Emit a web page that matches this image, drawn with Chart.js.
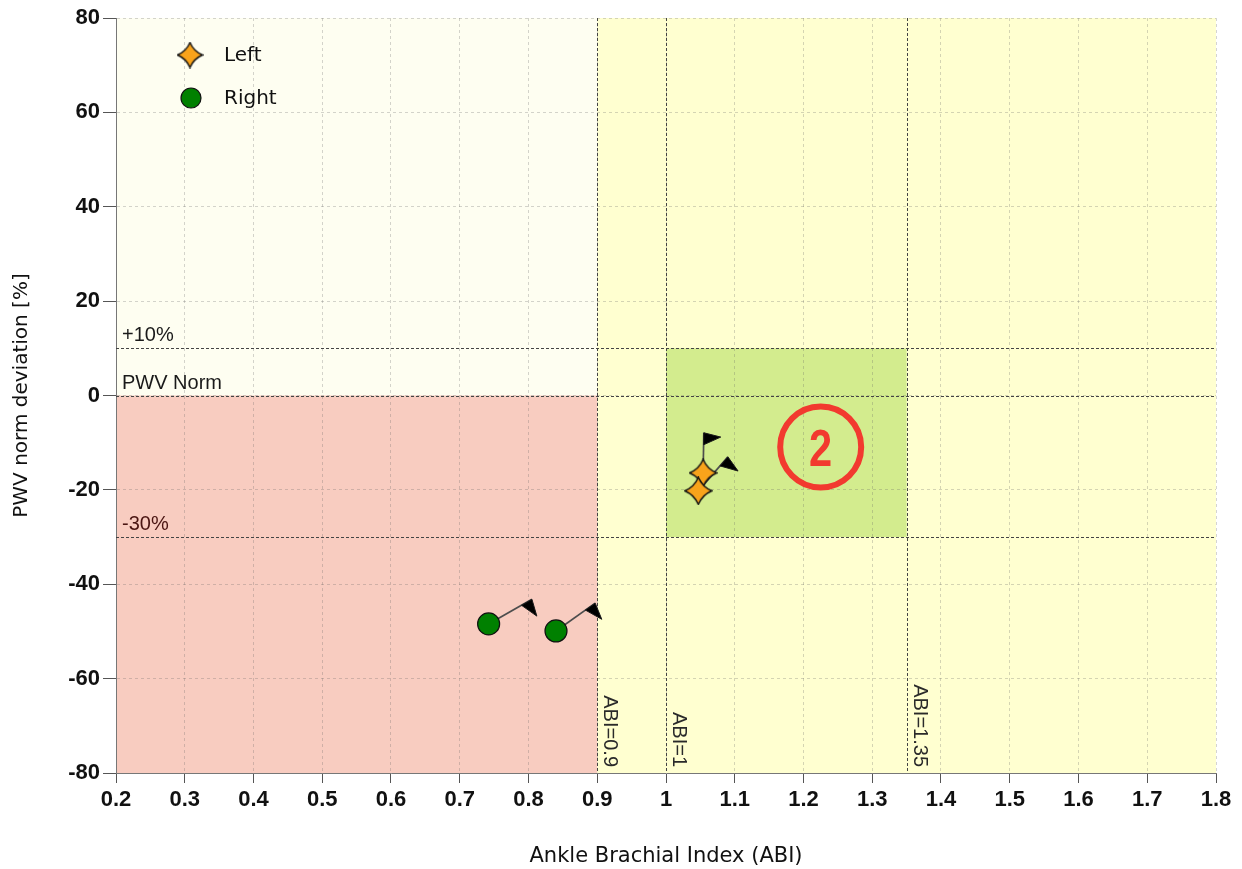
<!DOCTYPE html>
<html><head><meta charset="utf-8">
<script src="https://cdn.jsdelivr.net/npm/chart.js@4.4.0/dist/chart.umd.min.js"></script>
<style>html,body{margin:0;padding:0;background:#fff;}#wrap{width:1242px;height:869px;}</style>
</head><body><div id="wrap"><canvas id="c" width="1242" height="869"></canvas></div>
<script>
// ---- data ----
const xTicks = [0.2,0.3,0.4,0.5,0.6,0.7,0.8,0.9,1.0,1.1,1.2,1.3,1.4,1.5,1.6,1.7,1.8];
const yTicks = [-80,-60,-40,-20,0,20,40,60,80];
const seriesNames = ['Left', 'Right'];
const leftX = [1.054, 1.047];
const leftY = [-16.4, -20.2];
const leftFlagX = [1.055, 1.090];
const leftFlagY = [-7.9, -13.0];
const rightX = [0.742, 0.840];
const rightY = [-48.4, -49.9];
const rightFlagX = [0.805, 0.897];
const rightFlagY = [-43.2, -44.0];
const abiLines = [0.9, 1, 1.35];
const abiLabels = ['ABI=0.9', 'ABI=1', 'ABI=1.35'];
const pwvLines = [10, 0, -30];
const pwvLabels = ['+10%', 'PWV Norm', '-30%'];
const zoneNumber = '2';
const zoneMarkX = 1.225;
const zoneMarkY = -10.9;

// ---- marker images ----
function starPath(ctx, cx, cy, R, r) {
  ctx.beginPath();
  for (let i = 0; i < 4; i++) {
    const a = -Math.PI / 2 + i * Math.PI / 2;
    const a2 = a + Math.PI / 4, a3 = a + Math.PI / 2;
    if (i === 0) ctx.moveTo(cx + R * Math.cos(a), cy + R * Math.sin(a));
    ctx.quadraticCurveTo(cx + r * Math.cos(a2), cy + r * Math.sin(a2), cx + R * Math.cos(a3), cy + R * Math.sin(a3));
  }
  ctx.closePath();
}
function makeStar(size) {
  const cv = document.createElement('canvas');
  cv.width = size; cv.height = size;
  const c = cv.getContext('2d');
  const R = size / 2 - 1;
  starPath(c, size / 2, size / 2, R, R * 0.42);
  c.fillStyle = '#f9a31b';
  c.fill();
  c.lineWidth = 1.4;
  c.strokeStyle = '#111';
  c.lineJoin = 'miter';
  c.stroke();
  return cv;
}
const starImg = makeStar(29);
const legendStar = makeStar(27);

// ---- plugins ----
const zonesPlugin = {
  id: 'zones',
  beforeDraw(chart) {
    const {ctx, scales: {x, y}} = chart;
    ctx.save();
    const rect = (x0, x1, y0, y1, col) => {
      const px0 = x.getPixelForValue(x0), px1 = x.getPixelForValue(x1);
      const py0 = y.getPixelForValue(y0), py1 = y.getPixelForValue(y1);
      ctx.fillStyle = col;
      ctx.fillRect(Math.min(px0, px1), Math.min(py0, py1), Math.abs(px1 - px0), Math.abs(py1 - py0));
    };
    rect(x.min, x.max, y.min, y.max, '#fefef1');
    rect(abiLines[0], x.max, y.min, y.max, '#ffffd0');
    rect(x.min, abiLines[0], y.min, pwvLines[1], '#f8ccc0');
    rect(abiLines[1], abiLines[2], pwvLines[2], pwvLines[0], '#d3ec8e');
    ctx.restore();
  },
  beforeDatasetsDraw(chart) {
    const {ctx, chartArea: a, scales: {x, y}} = chart;
    ctx.save();
    ctx.strokeStyle = '#444';
    ctx.lineWidth = 1;
    ctx.setLineDash([3, 2]);
    abiLines.forEach(v => {
      const px = Math.round(x.getPixelForValue(v)) + 0.5;
      ctx.beginPath(); ctx.moveTo(px, a.top); ctx.lineTo(px, a.bottom); ctx.stroke();
    });
    pwvLines.forEach(v => {
      const py = Math.round(y.getPixelForValue(v)) + 0.5;
      ctx.beginPath(); ctx.moveTo(a.left, py); ctx.lineTo(a.right, py); ctx.stroke();
    });
    ctx.setLineDash([]);
    // labels
    ctx.font = '20px "Liberation Sans", Arial, sans-serif';
    ctx.textAlign = 'left';
    ctx.textBaseline = 'alphabetic';
    pwvLabels.forEach((t, i) => {
      const py = y.getPixelForValue(pwvLines[i]);
      ctx.fillStyle = pwvLines[i] < 0 ? '#4a1512' : '#1a1a1a';
      ctx.fillText(t, a.left + 6, py - 7);
    });
    ctx.fillStyle = '#2a2a2a';
    abiLabels.forEach((t, i) => {
      const px = x.getPixelForValue(abiLines[i]);
      ctx.save();
      ctx.translate(px + 7, a.bottom - 6);
      ctx.rotate(Math.PI / 2);
      ctx.textAlign = 'right';
      ctx.textBaseline = 'alphabetic';
      ctx.fillText(t, 0, 0);
      ctx.restore();
    });
    // flags
    const flags = (xs, ys, fx, fy) => {
      xs.forEach((v, i) => {
        const px = x.getPixelForValue(v), py = y.getPixelForValue(ys[i]);
        const ex = x.getPixelForValue(fx[i]), ey = y.getPixelForValue(fy[i]);
        const len = Math.hypot(ex - px, ey - py);
        const ux = (ex - px) / len, uy = (ey - py) / len;
        const nx = -uy, ny = ux;
        ctx.strokeStyle = '#4d4d4d';
        ctx.lineWidth = 1.7;
        ctx.beginPath(); ctx.moveTo(px, py); ctx.lineTo(ex, ey); ctx.stroke();
        const bx = ex - 12 * ux, by = ey - 12 * uy;
        const mx = (ex + bx) / 2, my = (ey + by) / 2;
        ctx.fillStyle = '#000';
        ctx.strokeStyle = '#1a1a1a';
        ctx.lineWidth = 1;
        ctx.beginPath();
        ctx.moveTo(ex, ey); ctx.lineTo(bx, by); ctx.lineTo(mx + 17 * nx + 2 * ux, my + 17 * ny + 2 * uy); ctx.closePath();
        ctx.fill(); ctx.stroke();
      });
    };
    flags(leftX, leftY, leftFlagX, leftFlagY);
    flags(rightX, rightY, rightFlagX, rightFlagY);
    ctx.restore();
  },
  afterDraw(chart) {
    const {ctx, scales: {x, y}} = chart;
    ctx.save();
    // zone mark
    const cx = x.getPixelForValue(zoneMarkX), cy = y.getPixelForValue(zoneMarkY);
    ctx.strokeStyle = '#f23a2f';
    ctx.lineWidth = 6;
    ctx.beginPath(); ctx.arc(cx, cy, 40.5, 0, Math.PI * 2); ctx.stroke();
    ctx.fillStyle = '#f23a2f';
    ctx.save();
    ctx.translate(cx, cy + 19);
    ctx.scale(0.8, 1);
    ctx.font = 'bold 52px "Liberation Sans", Arial, sans-serif';
    ctx.textAlign = 'center';
    ctx.textBaseline = 'alphabetic';
    ctx.fillText(zoneNumber, 0, 0);
    ctx.restore();
    // legend
    ctx.drawImage(legendStar, 190 - legendStar.width / 2, 55 - legendStar.height / 2);
    ctx.beginPath(); ctx.arc(191, 98, 10, 0, Math.PI * 2);
    ctx.fillStyle = '#008000'; ctx.fill();
    ctx.lineWidth = 1.2; ctx.strokeStyle = '#111'; ctx.stroke();
    ctx.fillStyle = '#111';
    ctx.font = '20px "DejaVu Sans", sans-serif';
    ctx.textAlign = 'left';
    ctx.textBaseline = 'middle';
    ctx.fillText(seriesNames[0], 224, 56);
    ctx.fillText(seriesNames[1], 224, 99);
    ctx.restore();
  }
};

const tickFont = {family: '"Liberation Sans", Arial, sans-serif', size: 22, weight: 'bold'};
const titleFont = {family: '"DejaVu Sans", sans-serif', size: 20};

new Chart(document.getElementById('c'), {
  type: 'scatter',
  data: {
    datasets: [
      {
        label: seriesNames[0],
        data: leftX.map((v, i) => ({x: v, y: leftY[i]})),
        pointStyle: starImg,
        pointRadius: 14,
        pointHoverRadius: 14
      },
      {
        label: seriesNames[1],
        data: rightX.map((v, i) => ({x: v, y: rightY[i]})),
        pointStyle: 'circle',
        pointRadius: 11,
        pointHoverRadius: 11,
        backgroundColor: '#008000',
        borderColor: '#111',
        borderWidth: 1.2
      }
    ]
  },
  options: {
    responsive: false,
    animation: false,
    devicePixelRatio: 1,
    events: [],
    layout: {padding: {left: 0, top: 18, right: 26, bottom: 0}},
    plugins: {legend: {display: false}, tooltip: {enabled: false}},
    scales: {
      x: {
        type: 'linear',
        min: 0.2, max: 1.8,
        afterBuildTicks: s => { s.ticks = xTicks.map(v => ({value: v})); },
        afterFit: s => { s.height = 96; },
        ticks: {
          autoSkip: false,
          maxRotation: 0,
          padding: 4,
          color: '#111',
          font: tickFont,
          callback: v => String(Number(v.toFixed(2)))
        },
        grid: {color: 'rgba(100,100,100,0.28)', lineWidth: 1, drawTicks: true, tickLength: 10, tickColor: '#555'},
        border: {display: true, color: '#777', width: 1, dash: [3, 3]},
        title: {display: true, text: 'Ankle Brachial Index (ABI)', color: '#111', font: {...titleFont, size: 21}, padding: {top: 0, bottom: 0}}
      },
      y: {
        type: 'linear',
        min: -80, max: 80,
        afterBuildTicks: s => { s.ticks = yTicks.map(v => ({value: v})); },
        afterFit: s => { s.width = 116; },
        ticks: {
          autoSkip: false,
          padding: 3,
          color: '#111',
          font: tickFont,
          callback: v => String(v)
        },
        grid: {color: 'rgba(100,100,100,0.28)', lineWidth: 1, drawTicks: true, tickLength: 13, tickColor: '#555'},
        border: {display: true, color: '#777', width: 1, dash: [3, 3]},
        title: {display: true, text: 'PWV norm deviation [%]', color: '#111', font: titleFont, padding: {top: 10, bottom: 0}}
      }
    }
  },
  plugins: [zonesPlugin]
});
</script>
</body></html>
